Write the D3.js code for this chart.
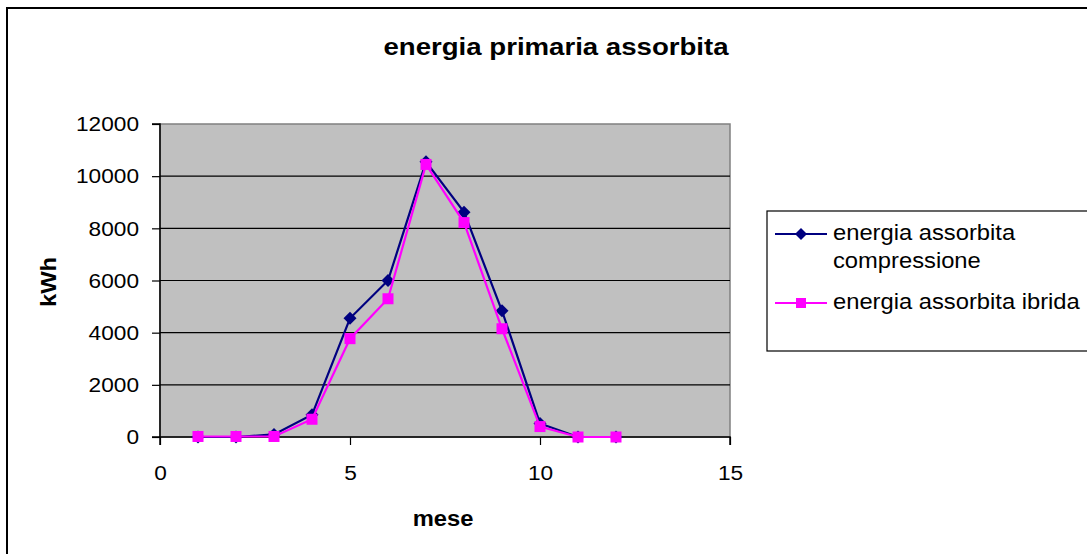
<!DOCTYPE html>
<html>
<head>
<meta charset="utf-8">
<script src="https://cdn.jsdelivr.net/npm/d3@7"></script>
<style>
  html, body { margin: 0; padding: 0; background: #fff; }
  svg { display: block; font-family: "Liberation Sans", Arial, sans-serif; }
</style>
</head>
<body>
<svg id="chart" width="1087" height="554"></svg>
<script>
// Monthly absorbed primary energy (kWh)
const months = [1, 2, 3, 4, 5, 6, 7, 8, 9, 10, 11, 12];
const compressione = [0, 0, 100, 850, 4550, 6000, 10550, 8620, 4840, 520, 0, 0];
const ibrida = [20, 20, 20, 680, 3770, 5300, 10450, 8220, 4150, 400, 0, 0];
const seriesNames = ["energia assorbita compressione", "energia assorbita ibrida"];
const xTicks = [0, 5, 10, 15];
const yTicks = [0, 2000, 4000, 6000, 8000, 10000, 12000];

const svg = d3.select("#chart");
const W = 1087, H = 554;
const SX = 1.08; // slightly wide lettering

// Text placed at (x, y) with a horizontal stretch
function label(parent, x, y, str, opts = {}) {
  const g = parent.append("g")
    .attr("transform", `translate(${x},${y})${opts.rotate ? ` rotate(${opts.rotate})` : ""} scale(${opts.sx || SX},1)`);
  return g.append("text")
    .attr("text-anchor", opts.anchor || "start")
    .attr("font-size", opts.size || 21)
    .attr("font-weight", opts.bold ? "bold" : "normal")
    .attr("fill", "#000")
    .text(str);
}

// Outer chart frame (extends past right and bottom edges)
svg.append("rect")
  .attr("x", 7).attr("y", 8)
  .attr("width", W).attr("height", H)
  .attr("fill", "#fff").attr("stroke", "#000").attr("stroke-width", 2);

const plot = { left: 160, right: 730, top: 124, bottom: 437 };

const x = d3.scaleLinear().domain([0, 15]).range([plot.left, plot.right]);
const y = d3.scaleLinear().domain([0, 12000]).range([plot.bottom, plot.top]);

// Plot area background
svg.append("rect")
  .attr("x", plot.left).attr("y", plot.top)
  .attr("width", plot.right - plot.left).attr("height", plot.bottom - plot.top)
  .attr("fill", "#c0c0c0").attr("stroke", "#808080").attr("stroke-width", 1.5);

// Horizontal gridlines
svg.append("g")
  .selectAll("line")
  .data(yTicks.filter(d => d > 0 && d < 12000))
  .join("line")
  .attr("x1", plot.left).attr("x2", plot.right)
  .attr("y1", d => y(d)).attr("y2", d => y(d))
  .attr("stroke", "#000").attr("stroke-width", 1.2);

// Axes
const yAxis = d3.axisLeft(y).tickValues(yTicks).tickSize(8).tickPadding(13)
  .tickFormat(d3.format("d"));
const xAxis = d3.axisBottom(x).tickValues(xTicks).tickSize(8).tickPadding(20)
  .tickFormat(d3.format("d"));

const gy = svg.append("g").attr("transform", `translate(${plot.left},0)`).call(yAxis);
const gx = svg.append("g").attr("transform", `translate(0,${plot.bottom})`).call(xAxis);

[gy, gx].forEach(g => {
  g.select(".domain").attr("stroke", "#000").attr("stroke-width", 1.5);
  g.selectAll(".tick line").attr("stroke", "#000").attr("stroke-width", 1.2);
  g.selectAll(".tick text")
    .attr("font-family", "Liberation Sans, Arial, sans-serif")
    .attr("font-size", 21).attr("fill", "#000")
    .each(function () {
      const t = d3.select(this);
      const tx = +t.attr("x") || 0;
      t.attr("x", tx / SX).attr("transform", `scale(${SX},1)`);
    });
});
gy.select(".domain").attr("d", `M-8,${plot.top}H0V${plot.bottom}H-8`);
gx.select(".domain").attr("d", `M${plot.left},8V0H${plot.right}V8`);

// Series lines and markers
const lineGen = d3.line().x((d, i) => x(months[i])).y(d => y(d));

svg.append("path")
  .datum(compressione)
  .attr("d", lineGen)
  .attr("fill", "none").attr("stroke", "#000080").attr("stroke-width", 2.2);

svg.append("g")
  .selectAll("path")
  .data(compressione)
  .join("path")
  .attr("transform", (d, i) => `translate(${x(months[i])},${y(d)})`)
  .attr("d", "M0,-6.5L6.5,0L0,6.5L-6.5,0Z")
  .attr("fill", "#000080");

svg.append("path")
  .datum(ibrida)
  .attr("d", lineGen)
  .attr("fill", "none").attr("stroke", "#ff00ff").attr("stroke-width", 2.2);

svg.append("g")
  .selectAll("rect")
  .data(ibrida)
  .join("rect")
  .attr("x", (d, i) => x(months[i]) - 5.5)
  .attr("y", d => y(d) - 5.5)
  .attr("width", 11).attr("height", 11)
  .attr("fill", "#ff00ff");

// Title and axis titles
label(svg, 556, 55, "energia primaria assorbita", { anchor: "middle", size: 24, bold: true, sx: 1.15 });
label(svg, 56, 282, "kWh", { anchor: "middle", size: 22, bold: true, rotate: -90 });
label(svg, 443, 526, "mese", { anchor: "middle", size: 22, bold: true });

// Legend
const lg = svg.append("g");
lg.append("rect")
  .attr("x", 767).attr("y", 211)
  .attr("width", 400).attr("height", 140)
  .attr("fill", "#fff").attr("stroke", "#000").attr("stroke-width", 1.2);

const legendItems = [
  { color: "#000080", shape: "diamond", y: 234, lines: ["energia assorbita", "compressione"] },
  { color: "#ff00ff", shape: "square", y: 303, lines: [seriesNames[1]] }
];

legendItems.forEach(item => {
  lg.append("line")
    .attr("x1", 775).attr("x2", 827)
    .attr("y1", item.y).attr("y2", item.y)
    .attr("stroke", item.color).attr("stroke-width", 2);
  if (item.shape === "diamond") {
    lg.append("path")
      .attr("transform", `translate(801,${item.y})`)
      .attr("d", "M0,-6L6,0L0,6L-6,0Z")
      .attr("fill", item.color);
  } else {
    lg.append("rect")
      .attr("x", 796).attr("y", item.y - 5)
      .attr("width", 10).attr("height", 10)
      .attr("fill", item.color);
  }
  item.lines.forEach((t, k) => {
    label(lg, 833, item.y + 6 + k * 28, t, { size: 22 });
  });
});
</script>
</body>
</html>
